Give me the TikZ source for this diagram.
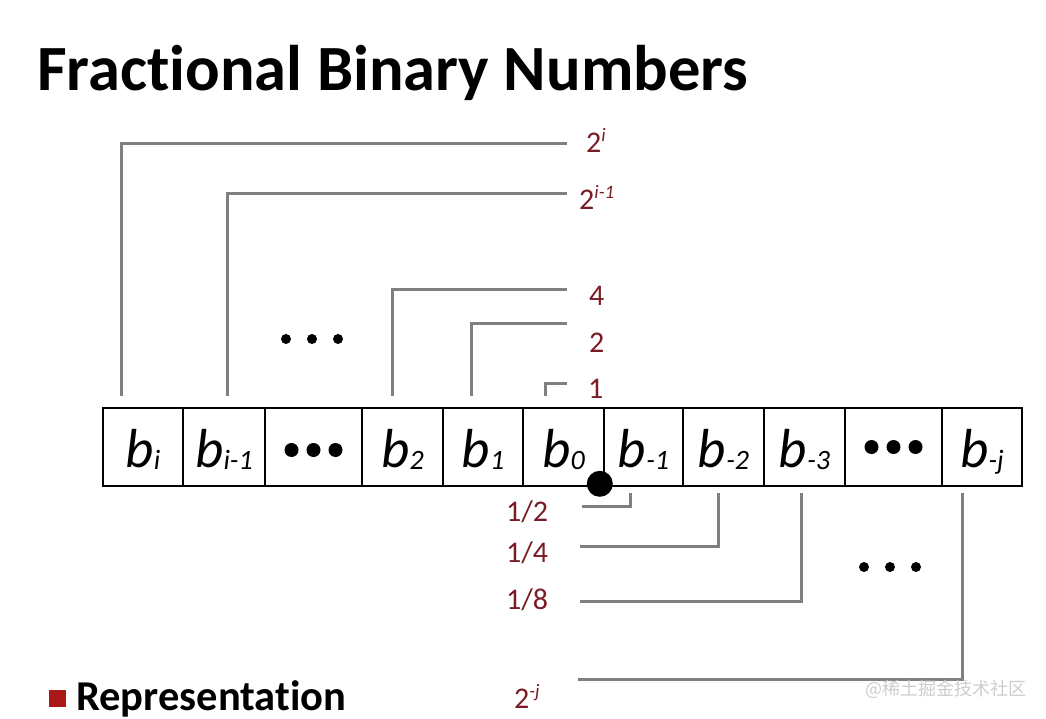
\documentclass[tikz,border=0pt]{standalone}
\usepackage{fontspec}
\setmainfont{Carlito}[Ligatures=NoCommon]
\newfontfamily\cjkfont{Noto Sans CJK SC}
\usepackage{tikz}
\usetikzlibrary{positioning,calc}
\definecolor{leadgray}{RGB}{128, 128, 128}
\definecolor{weightred}{RGB}{122, 28, 38}
\definecolor{markred}{RGB}{170, 24, 24}
\definecolor{wmgray}{RGB}{205, 205, 205}
\newcommand{\bitsub}[1]{b\raisebox{-2pt}{\fontsize{28}{28}\selectfont #1}}
\newcommand{\powtwo}[1]{2\raisebox{11pt}{\fontsize{19}{19}\selectfont\itshape #1}}

\begin{document}
\begin{tikzpicture}[
        x=1pt, y=-1pt,
        cell/.style={draw, line width=1.6pt, minimum height=78pt, inner sep=0pt, text height=41pt, text depth=0pt, font=\fontsize{55}{55}\selectfont\itshape},
        lead/.style={draw=leadgray, line width=3pt},
        weight/.style={anchor=base west, inner sep=0pt, text=weightred, font=\fontsize{30}{30}\selectfont},
        binpoint/.style={circle, fill=black, minimum size=26pt, inner sep=0pt}
    ]
        \useasboundingbox (0,0) rectangle (1046,719);

        % Title
        \node[anchor=base west, inner sep=0pt, font=\fontsize{64.5}{64.5}\selectfont\bfseries] (title) at (37,91) {Fractional Binary Numbers};

        % Bit cells
        \node[cell, minimum width=80pt] (bi) at (143,447) {\bitsub{i}};
        \node[cell, minimum width=82pt] (bim1) at (224,447) {\bitsub{i-1}};
        \node[cell, minimum width=97pt] (dotsL) at (313.5,447) {};
        \node[cell, minimum width=81pt] (b2) at (402.5,447) {\bitsub{2}};
        \node[cell, minimum width=80pt] (b1) at (483,447) {\bitsub{1}};
        \node[cell, minimum width=81pt] (b0) at (563.5,447) {\bitsub{0}};
        \node[cell, minimum width=79pt] (bm1) at (643.5,447) {\bitsub{-1}};
        \node[cell, minimum width=81pt] (bm2) at (723.5,447) {\bitsub{-2}};
        \node[cell, minimum width=81pt] (bm3) at (804.5,447) {\bitsub{-3}};
        \node[cell, minimum width=97pt] (dotsR) at (893.5,447) {};
        \node[cell, minimum width=80pt] (bmj) at (982,447) {\bitsub{-j}};

        \foreach \dx in {-22,0,22} {
            \fill ([shift={(\dx,3)}]dotsL.center) circle (7);
            \fill ([shift={(\dx,0)}]dotsR.center) circle (7);
        }

        % Binary point
        \node[binpoint] (point) at ([shift={(-5,-3)}]b0.south east) {};

        % Weights of the integer part
        \node[weight] (w2i) at (586,153) {\powtwo{i}};
        \node[weight] (w2im1) at (579,210) {\powtwo{i-1}};
        \node[weight] (w4) at (589,305) {4};
        \node[weight] (w2) at (589,352) {2};
        \node[weight] (w1) at (588,398) {1};

        \coordinate (t2i) at (567,144);
        \coordinate (t2im1) at (567,194);
        \coordinate (t4) at (567,289);
        \coordinate (t2) at (567,323);
        \coordinate (t1) at (567,383);

        \draw[lead] ([shift={(-22,-11)}]bi.north) |- (t2i);
        \draw[lead] ([shift={(3,-11)}]bim1.north) |- (t2im1);
        \draw[lead] ([shift={(-10.5,-11)}]b2.north) |- (t4);
        \draw[lead] ([shift={(-12,-11)}]b1.north) |- (t2);
        \draw[lead] ([shift={(-18.5,-11)}]b0.north) |- (t1);

        % Weights of the fraction part
        \node[weight] (whalf) at (506,521) {1/2};
        \node[weight] (wquarter) at (506,562) {1/4};
        \node[weight] (weighth) at (506,609) {1/8};
        \node[weight] (w2mj) at (514,708) {\powtwo{-j}};

        \coordinate (thalf) at (582,506);
        \coordinate (tquarter) at (580,546);
        \coordinate (teighth) at (580,601);
        \coordinate (t2mj) at (578,679);

        \draw[lead] ([shift={(-13.5,6)}]bm1.south) |- (thalf);
        \draw[lead] ([shift={(-5.5,6)}]bm2.south) |- (tquarter);
        \draw[lead] ([shift={(-3.5,6)}]bm3.south) |- (teighth);
        \draw[lead] ([shift={(-20,6)}]bmj.south) |- (t2mj);

        % Free dots
        \foreach \x in {286,312,338} \fill (\x,339) circle (5);
        \foreach \x in {864,890,916} \fill (\x,567) circle (5);

        % Bottom bullet
        \node[anchor=base west, inner sep=0pt, font=\fontsize{42.5}{42.5}\selectfont\bfseries] (rep) at (76,710) {Representation};
        \node[fill=markred, minimum size=17pt, inner sep=0pt, left=10pt of rep] (repmark) {};

        \node[anchor=base west, inner sep=0pt, text=wmgray, font=\cjkfont\fontsize{18}{18}\selectfont] (wm) at (865,695) {@稀土掘金技术社区};
    \end{tikzpicture}
\end{document}
